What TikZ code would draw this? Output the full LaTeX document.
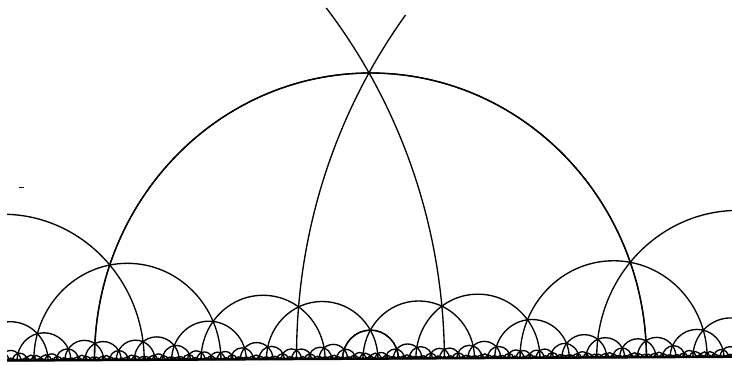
\documentclass[tikz,border=0pt]{standalone}

\tikzset{
  geodesic/.style={line width=0.95pt, black},
  axis line/.style={line width=1.2pt, black},
}

% one geodesic: centre #1, radii #2 (x) and #3 (y), in pixels
\newcommand{\geod}[3]{%
  \draw[geodesic] (#1+#2,0) arc[start angle=0, end angle=180,
    x radius=#2, y radius=#3];}

\ExplSyntaxOn
\fp_new:N \l_tess_c_fp
\fp_new:N \l_tess_k_fp
\fp_new:N \l_tess_r_fp
\fp_new:N \l_tess_px_fp
\fp_new:N \l_tess_py_fp
\fp_new:N \l_tess_qx_fp
\fp_new:N \l_tess_qy_fp
\tl_new:N \l_tess_key_tl
\int_new:N \g_tess_head_int
\int_new:N \g_tess_tail_int
\fp_const:Nn \c_tess_eps_fp { 0.004 }
\fp_const:Nn \c_tess_ux_fp { 276 }
\fp_const:Nn \c_tess_uy_fp { 286 }

% circle through two points, centre on the real axis
\cs_new_protected:Npn \tess_circle:nnnn #1#2#3#4
  {
    \fp_set:Nn \l_tess_c_fp
      { ( (#1)^2 + (#2)^2 - (#3)^2 - (#4)^2 ) / ( 2 * ( (#1) - (#3) ) ) }
    \fp_set:Nn \l_tess_k_fp { ( (#1) - \l_tess_c_fp )^2 + (#2)^2 }
  }

% reflect a point in the current circle
\cs_new_protected:Npn \tess_reflect:nnNN #1#2#3#4
  {
    \fp_set:Nn \l_tess_r_fp
      { \l_tess_k_fp / ( ( (#1) - \l_tess_c_fp )^2 + (#2)^2 ) }
    \fp_set:Nn #3 { \l_tess_c_fp + \l_tess_r_fp * ( (#1) - \l_tess_c_fp ) }
    \fp_set:Nn #4 { \l_tess_r_fp * (#2) }
  }

% queue a tile if it is new and near the window
\cs_new_protected:Npn \tess_push:nnnnnnnn #1#2#3#4#5#6#7#8
  {
    \bool_if:nT
      {
        \fp_compare_p:n { max(#2,#4,#6,#8) >= \c_tess_eps_fp } &&
        \fp_compare_p:n { min(#1,#3,#5,#7) <= 1.6 } &&
        \fp_compare_p:n { max(#1,#3,#5,#7) >= -1.6 } &&
        \fp_compare_p:n { min(#2,#4,#6,#8) <= 1.6 }
      }
      {
        \tl_set:Nx \l_tess_key_tl
          {
            t \fp_eval:n { round( ((#1)+(#3)+(#5)+(#7)) * 250000 ) }
            / \fp_eval:n { round( ((#2)+(#4)+(#6)+(#8)) * 250000 ) }
          }
        \cs_if_exist:cF { \l_tess_key_tl }
          {
            \cs_gset_nopar:cpn { \l_tess_key_tl } { }
            \int_gincr:N \g_tess_tail_int
            \tl_gset:cx { g_tess_tile_ \int_use:N \g_tess_tail_int _tl }
              { {#1}{#2}{#3}{#4}{#5}{#6}{#7}{#8} }
          }
      }
  }
\cs_generate_variant:Nn \tess_push:nnnnnnnn { xxxxxxxx }

% draw one side line once
\cs_new_protected:Npn \tess_side:nnnn #1#2#3#4
  {
    \tess_circle:nnnn {#1}{#2}{#3}{#4}
    \fp_set:Nn \l_tess_r_fp { sqrt(\l_tess_k_fp) }
    \tl_set:Nx \l_tess_key_tl
      {
        l \fp_eval:n { round(\l_tess_c_fp * 1000000) }
        / \fp_eval:n { round(\l_tess_r_fp * 1000000) }
      }
    \cs_if_exist:cF { \l_tess_key_tl }
      {
        \cs_gset_nopar:cpn { \l_tess_key_tl } { }
        \bool_if:nT
          {
            \fp_compare_p:n { \l_tess_r_fp >= 0.0015 } &&
            \fp_compare_p:n { \l_tess_r_fp <= 12 } &&
            \fp_compare_p:n { \l_tess_c_fp - \l_tess_r_fp <= 1.4 } &&
            \fp_compare_p:n { \l_tess_c_fp + \l_tess_r_fp >= -1.4 }
          }
          {
            \use:x
              {
                \exp_not:N \geod
                { \fp_eval:n { round(\l_tess_c_fp * \c_tess_ux_fp, 3) } }
                { \fp_eval:n { round(\l_tess_r_fp * \c_tess_ux_fp, 3) } }
                { \fp_eval:n { round(\l_tess_r_fp * \c_tess_uy_fp, 3) } }
              }
          }
      }
  }

% one tile (four vertices): draw its sides, queue its neighbours
\cs_new_protected:Npn \tess_tile:nnnnnnnn #1#2#3#4#5#6#7#8
  {
    \tess_side:nnnn {#1}{#2}{#3}{#4}
    \tess_side:nnnn {#3}{#4}{#5}{#6}
    \tess_side:nnnn {#5}{#6}{#7}{#8}
    \tess_side:nnnn {#7}{#8}{#1}{#2}
    % across side 1-2
    \tess_circle:nnnn {#1}{#2}{#3}{#4}
    \tess_reflect:nnNN {#5}{#6} \l_tess_px_fp \l_tess_py_fp
    \tess_reflect:nnNN {#7}{#8} \l_tess_qx_fp \l_tess_qy_fp
    \tess_push:xxxxxxxx {#1}{#2}{#3}{#4}
      { \fp_use:N \l_tess_px_fp } { \fp_use:N \l_tess_py_fp }
      { \fp_use:N \l_tess_qx_fp } { \fp_use:N \l_tess_qy_fp }
    % across side 2-3
    \tess_circle:nnnn {#3}{#4}{#5}{#6}
    \tess_reflect:nnNN {#1}{#2} \l_tess_px_fp \l_tess_py_fp
    \tess_reflect:nnNN {#7}{#8} \l_tess_qx_fp \l_tess_qy_fp
    \tess_push:xxxxxxxx
      { \fp_use:N \l_tess_px_fp } { \fp_use:N \l_tess_py_fp }
      {#3}{#4}{#5}{#6}
      { \fp_use:N \l_tess_qx_fp } { \fp_use:N \l_tess_qy_fp }
    % across side 3-4
    \tess_circle:nnnn {#5}{#6}{#7}{#8}
    \tess_reflect:nnNN {#1}{#2} \l_tess_px_fp \l_tess_py_fp
    \tess_reflect:nnNN {#3}{#4} \l_tess_qx_fp \l_tess_qy_fp
    \tess_push:xxxxxxxx
      { \fp_use:N \l_tess_px_fp } { \fp_use:N \l_tess_py_fp }
      { \fp_use:N \l_tess_qx_fp } { \fp_use:N \l_tess_qy_fp }
      {#5}{#6}{#7}{#8}
    % across side 4-1
    \tess_circle:nnnn {#7}{#8}{#1}{#2}
    \tess_reflect:nnNN {#3}{#4} \l_tess_px_fp \l_tess_py_fp
    \tess_reflect:nnNN {#5}{#6} \l_tess_qx_fp \l_tess_qy_fp
    \tess_push:xxxxxxxx {#1}{#2}
      { \fp_use:N \l_tess_px_fp } { \fp_use:N \l_tess_py_fp }
      { \fp_use:N \l_tess_qx_fp } { \fp_use:N \l_tess_qy_fp }
      {#7}{#8}
  }

% {4,6} tiling: first tile has vertices i, P, Q, R
\cs_new_protected:Npn \drawtiling
  {
    \fp_set:Nn \l_tess_px_fp { 2*sqrt(2)/3 + sqrt(3) }
    \fp_set:Nn \l_tess_r_fp { 4 / ( \l_tess_px_fp^2 + 1/9 ) }
    \fp_set:Nn \l_tess_qx_fp { -sqrt(3) + \l_tess_r_fp * \l_tess_px_fp }
    \fp_set:Nn \l_tess_qy_fp { \l_tess_r_fp / 3 }
    \int_gzero:N \g_tess_head_int
    \int_gzero:N \g_tess_tail_int
    \tess_push:xxxxxxxx {0}{1}
      { \fp_use:N \l_tess_qx_fp } { \fp_use:N \l_tess_qy_fp }
      {0} { \fp_eval:n { 5 - sqrt(24) } }
      { \fp_eval:n { - \l_tess_qx_fp } } { \fp_use:N \l_tess_qy_fp }
    \int_while_do:nNnn { \g_tess_head_int } < { \g_tess_tail_int }
      {
        \int_gincr:N \g_tess_head_int
        \exp_last_unbraced:Nv \tess_tile:nnnnnnnn
          { g_tess_tile_ \int_use:N \g_tess_head_int _tl }
      }
  }
\ExplSyntaxOff

\begin{document}
\begin{tikzpicture}[x=0.025cm, y=0.025cm]
  \useasboundingbox (0,0) rectangle (732,364);
  \begin{scope}
    \clip (7,384.7) -- (732,319.7) -- (732,-5) -- (7,-5) -- cycle;
    \begin{scope}[shift={(370.5,5)}, rotate=0.3]
      \drawtiling
      % real axis
      \draw[axis line] (-380,0) -- (380,0);
    \end{scope}
  \end{scope}
  % small stray mark, upper left
  \draw[line width=0.6pt] (19,177) -- (24,177);
\end{tikzpicture}
\end{document}
